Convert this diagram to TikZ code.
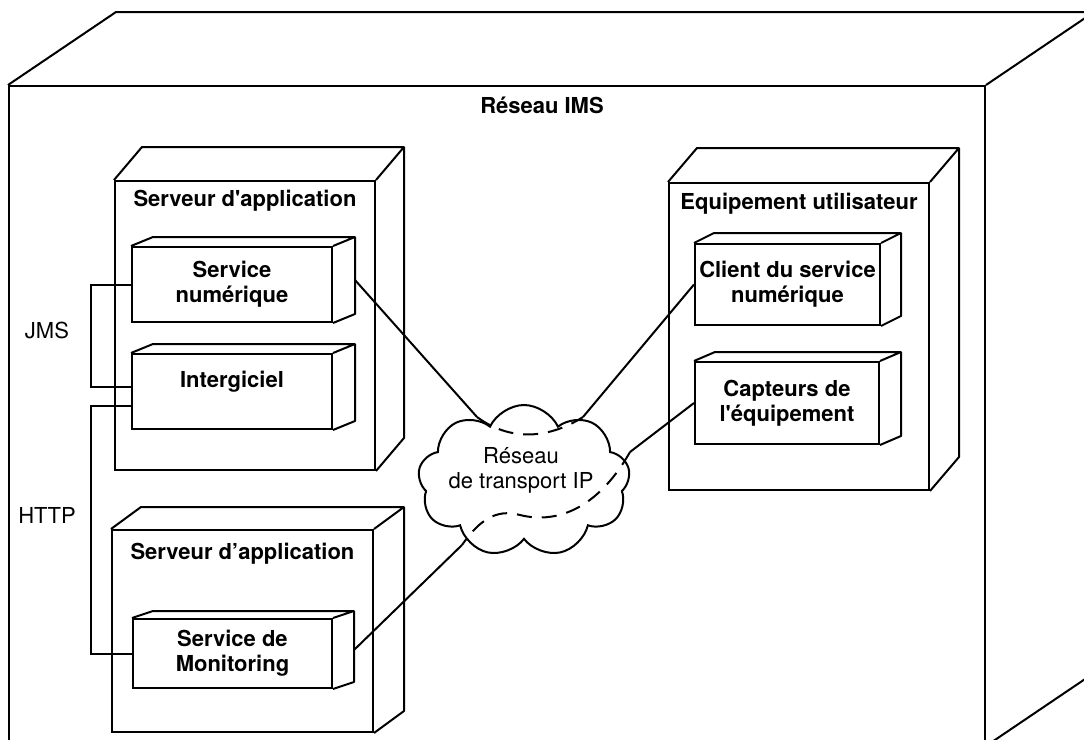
\documentclass[tikz,border=0pt]{standalone}
\usepackage{fontspec}
\setmainfont{TeX Gyre Heros}
\usetikzlibrary{calc, positioning, shapes.symbols}
\newcommand{\lblfont}{\fontsize{11}{12.5}\selectfont}
\tikzset{ x=0.5pt, y=-0.5pt,
  dnode/.style={draw, align=center, inner sep=0pt, font=\lblfont\bfseries},
  dtitle/.style={inner sep=0pt, font=\lblfont\bfseries},
  plain/.style={inner sep=0pt, font=\lblfont, align=center},
  tunnel/.style={dash pattern=on 7.5pt off 5pt} }
% depth faces of a box node: name, dx, dy
\newcommand{\extrude}[3]{\draw[line join=round] (#1.north west) -- ++(#2,#3) -- ($(#1.north east)+(#2,#3)$) -- ($(#1.south east)+(#2,#3)$) -- (#1.south east) (#1.north east) -- ++(#2,#3);}

\begin{document}
\begin{tikzpicture}[line width=1pt]
\useasboundingbox (0,0) rectangle (1084,740);
\clip (0,0) rectangle (1084,740);
% IMS network
\node[dnode, minimum width=488pt, minimum height=329.5pt] (ims) at (497,415.5) {};
\extrude{ims}{108}{-73}
\node[dtitle] (imst) at (542,105) {Réseau IMS};
% application server
\node[dnode, minimum width=130pt, minimum height=144.5pt] (srv1) at (245,325.5) {};
\extrude{srv1}{28}{-33}
\node[dtitle] (srv1t) at ($(srv1.north)+(0,21)$) {Serveur d\textquotesingle application};
\node[dnode, minimum width=100pt, minimum height=37.5pt] (svcnum) at (232,284.5) {Service\\numérique};
\extrude{svcnum}{22}{-9}
\node[dnode, minimum width=100pt, minimum height=37.5pt] (interg) at (232,391.5) {Intergiciel\\\mbox{}};
\extrude{interg}{22}{-9}
% user equipment
\node[dnode, minimum width=130pt, minimum height=153.5pt] (equip) at (799,336.5) {};
\extrude{equip}{29}{-34}
\node[dtitle] (equipt) at ($(equip.north)+(0,22)$) {Equipement utilisateur};
\node[dnode, minimum width=92.5pt, minimum height=40.5pt] (client) at (787.5,284.5) {Client du service\\numérique};
\extrude{client}{20}{-10}
\node[dnode, minimum width=92pt, minimum height=41pt] (capt) at (787,403) {Capteurs de\\l\textquotesingle équipement};
\extrude{capt}{21}{-9}
% monitoring server
\node[dnode, minimum width=130.5pt, minimum height=101pt] (srv2) at (242.5,631) {};
\extrude{srv2}{30}{-22}
\node[dtitle] (srv2t) at ($(srv2.north)+(0,25)$) {Serveur d’application};
\node[dnode, minimum width=99.5pt, minimum height=34.5pt] (monit) at (232.5,653.5) {Service de\\Monitoring};
\extrude{monit}{21}{-7}
% transport network
\node[cloud, draw, cloud puffs=9, cloud puff arc=130, aspect=1.4, minimum width=106pt, minimum height=76pt, inner sep=0pt] (ip) at (524,481) {};
\node[plain] (iplbl) at (521,470) {Réseau\\de transport IP};
% links
\coordinate (svcnum-r) at ($(svcnum.east)+(22,-4.5)$);
\coordinate (monit-r) at ($(monit.east)+(21,-3.5)$);
\coordinate (ipa) at (477,417);
\coordinate (ipb) at (583,417);
\coordinate (ipc) at (630,452);
\coordinate (ipd) at (462,545);
\draw (svcnum-r) -- (ipa);
\draw[tunnel] (ipa) .. controls (515,445) and (555,435) .. (ipb);
\draw (ipb) -- (client.west);
\draw (capt.west) -- (ipc);
\draw[tunnel] (ipc) .. controls (600,505) and (560,525) .. (520,515) .. controls (495,508) and (478,522) .. (ipd);
\draw (ipd) -- (monit-r);
\draw (svcnum.west) -- ++(-40,0) |- ($(interg.west)+(0,-4.5)$);
\draw ($(interg.west)+(0,14.5)$) -- ++(-40,0) |- (monit.west);
\node[plain] (jms) at (47,330) {JMS};
\node[plain] (http) at (47,515) {HTTP};
\end{tikzpicture}
\end{document}
